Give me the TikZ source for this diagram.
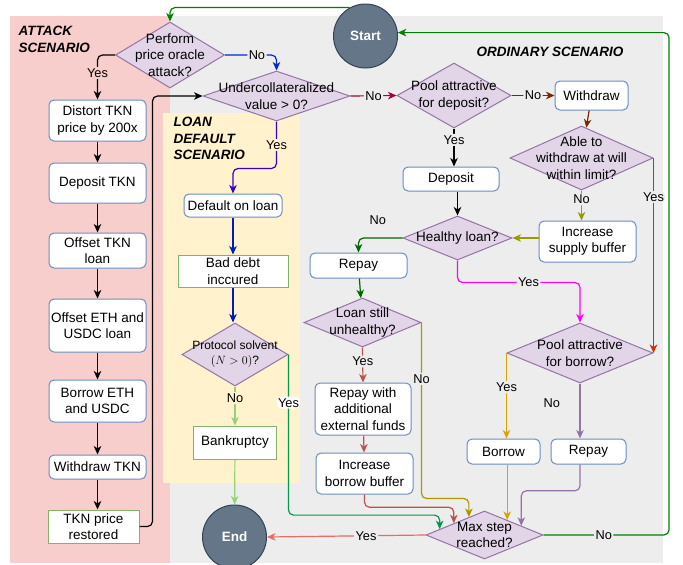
\documentclass[tikz,border=0pt]{standalone}
\usepackage{fontspec}
\setmainfont{Liberation Sans}
\usetikzlibrary{shapes.geometric,arrows.meta,calc}
\definecolor{pinkbg}{HTML}{F8CECC}
\definecolor{graybg}{HTML}{EDEDED}
\definecolor{yellowbg}{HTML}{FFF2CC}
\definecolor{diafill}{HTML}{E1D5E7}
\definecolor{diaborder}{HTML}{9673A6}
\definecolor{boxblue}{HTML}{6C8EBF}
\definecolor{boxgreen}{HTML}{82B366}
\definecolor{termfill}{HTML}{647687}
\definecolor{termborder}{HTML}{314354}
\definecolor{cStart}{HTML}{007F00}
\definecolor{cBlueA}{HTML}{0029CC}
\definecolor{cPurpleBlue}{HTML}{3700CC}
\definecolor{cBlueB}{HTML}{001DBC}
\definecolor{cLgreen}{HTML}{97D077}
\definecolor{cGreenB}{HTML}{00994D}
\definecolor{cCrimson}{HTML}{A50040}
\definecolor{cBrown}{HTML}{7A2800}
\definecolor{cOlive}{HTML}{999900}
\definecolor{cOrRed}{HTML}{CC3300}
\definecolor{cDGreen}{HTML}{006600}
\definecolor{cMagenta}{HTML}{FF00FF}
\definecolor{cRed}{HTML}{B85450}
\definecolor{cGold}{HTML}{B09500}
\definecolor{cOrange}{HTML}{D9A300}
\definecolor{cPurple}{HTML}{9673A6}
\definecolor{cSalmon}{HTML}{EA6B66}
\begin{document}
\begin{tikzpicture}[x=1pt,y=-1pt,
  font=\fontsize{13.5}{16.5}\selectfont,
  box/.style={draw=boxblue, fill=white, rounded corners=5pt, line width=1pt, inner sep=0pt, align=center},
  gbox/.style={draw=boxgreen, fill=white, line width=1pt, inner sep=0pt, align=center},
  dia/.style={diamond, draw=diaborder, fill=diafill, line width=1pt, inner sep=0pt},
  term/.style={circle, draw=termborder, fill=termfill, line width=1pt, minimum size=64pt, inner sep=0pt, text=white, font=\fontsize{13.5}{16}\selectfont\bfseries},
  arr/.style={line width=1.2pt, -{Stealth[length=8.5pt,width=7.5pt,inset=2.5pt]}, rounded corners=5pt},
  lbl/.style={font=\fontsize{12.8}{15}\selectfont, text=black, fill=graybg, inner sep=1.5pt},
  nlbl/.style={font=\fontsize{12.8}{15}\selectfont, text=black},
  scen/.style={font=\fontsize{13.5}{16.5}\selectfont\bfseries\itshape, align=left}
]
\useasboundingbox (0,0) rectangle (683,565);
% backgrounds
\fill[pinkbg] (10,16) rectangle (170,563);
\fill[graybg] (170,16) rectangle (663,563);
\fill[yellowbg] (163,113) rectangle (300,483);
\node[scen, anchor=west] (tAttack) at (15,39.5) {ATTACK\\SCENARIO};
\node[scen, anchor=west] (tLoan) at (170,138.5) {LOAN\\DEFAULT\\SCENARIO};
\node[scen] (tOrd) at (550,52) {ORDINARY SCENARIO};

% attack column
\node[dia, minimum width=109pt, minimum height=66pt, label={[align=center]center:Perform\\price oracle\\attack?}] (attack) at (170,55) {};
\node[box, minimum width=97pt, minimum height=41pt] (distort) at (97.5,120.5) {Distort TKN\\price by 200x};
\node[box, minimum width=97pt, minimum height=40pt] (deptkn) at (97.5,183) {Deposit TKN};
\node[box, minimum width=97pt, minimum height=35pt] (offtkn) at (97.5,250.5) {Offset TKN\\loan};
\node[box, minimum width=97pt, minimum height=53pt] (offeth) at (97.5,325.5) {Offset ETH and\\USDC loan};
\node[box, minimum width=97pt, minimum height=42pt] (borrowe) at (97.5,401) {Borrow ETH\\and USDC};
\node[box, minimum width=97pt, minimum height=24pt] (wtkn) at (97.5,467) {Withdraw TKN};
\node[gbox, minimum width=91pt, minimum height=33pt] (restored) at (93.5,526.5) {TKN price\\restored};

% loan default column
\node[dia, minimum width=147pt, minimum height=50pt, label={[align=center]center:Undercollateralized\\value > 0?}] (undercol) at (276.5,96) {};
\node[box, minimum width=98pt, minimum height=23pt] (default) at (233,205.5) {Default on loan};
\node[gbox, minimum width=110pt, minimum height=32pt] (baddebt) at (233,271) {Bad debt\\inccured};
\node[dia, minimum width=106pt, minimum height=63pt, label={[align=center, font=\fontsize{12}{15}\selectfont]center:Protocol solvent\\$(N>0)$?}] (protocol) at (235,354.5) {};
\node[gbox, minimum width=83pt, minimum height=33pt] (bankrupt) at (235,442.5) {Bankruptcy};
\node[term] (end) at (234.5,537) {End};

% ordinary
\node[term] (start) at (365.5,36) {Start};
\node[dia, minimum width=114pt, minimum height=65pt, label={[align=center]center:Pool attractive\\for deposit?}] (pooldep) at (454,95.5) {};
\node[box, minimum width=73pt, minimum height=29pt] (withdraw) at (591.5,95.5) {Withdraw};
\node[dia, minimum width=143pt, minimum height=64pt, label={[align=center]center:Able to\\withdraw at will\\within limit?}] (able) at (581.5,158) {};
\node[box, minimum width=97pt, minimum height=41pt] (incsupply) at (587.5,241.5) {Increase\\supply buffer};
\node[box, minimum width=96pt, minimum height=24pt] (deposit) at (451,179) {Deposit};
\node[dia, minimum width=109pt, minimum height=44pt, label={[align=center]center:Healthy loan?}] (healthy) at (457.5,238) {};
\node[box, minimum width=97pt, minimum height=25pt] (repay1) at (358.5,265.5) {Repay};
\node[dia, minimum width=117pt, minimum height=49pt, label={[align=center]center:Loan still\\unhealthy?}] (loanstill) at (362.5,322.5) {};
\node[box, minimum width=96pt, minimum height=52pt] (repayext) at (363,409) {Repay with\\additional\\external funds};
\node[box, minimum width=97pt, minimum height=41pt] (incborrow) at (364.5,473.5) {Increase\\borrow buffer};
\node[dia, minimum width=146pt, minimum height=60pt, label={[align=center]center:Pool attractive\\for borrow?}] (poolbor) at (580,353) {};
\node[box, minimum width=73pt, minimum height=25pt] (borrow) at (503.5,451.5) {Borrow};
\node[box, minimum width=75pt, minimum height=25pt] (repay2) at (588.5,451.5) {Repay};
\node[dia, minimum width=117pt, minimum height=48pt, label={[align=center]center:Max step\\reached?}] (maxstep) at (484.5,535) {};

\coordinate (mA) at ($(maxstep.west)!0.24!(maxstep.north)$);
\coordinate (mB) at ($(maxstep.west)!0.48!(maxstep.north)$);
\coordinate (mC) at ($(maxstep.west)!0.735!(maxstep.north)$);
\coordinate (mD) at ($(maxstep.north)!0.385!(maxstep.east)$);
\coordinate (mE) at ($(maxstep.north)!0.624!(maxstep.east)$);

% connectors: attack
\draw[arr, cStart] (start.119) -| (attack.north);
\draw[arr, black] (attack.west) -| node[lbl, fill=pinkbg, pos=0.7]{Yes} (distort.north);
\draw[arr, black] (distort) -- (deptkn);
\draw[arr, black] (deptkn) -- (offtkn);
\draw[arr, black] (offtkn) -- (offeth);
\draw[arr, black] (offeth) -- (borrowe);
\draw[arr, black] (borrowe) -- (wtkn);
\draw[arr, black] (wtkn.south) -- (wtkn.south |- restored.north);
\draw[arr, black] (restored.east) -- ++(13,0) |- (undercol.west);
\draw[arr, cBlueA] (attack.east) -| node[lbl, pos=0.31]{No} (undercol.north);

% loan default
\draw[arr, cPurpleBlue] (undercol.south) -- node[lbl, fill=yellowbg]{Yes} ++(0,47) -| (default.north);
\draw[arr, cBlueB] (default) -- (baddebt);
\draw[arr, cBlueB] (baddebt.south) -- (baddebt.south |- protocol.north);
\draw[arr, cLgreen] (protocol.south) -- node[lbl, fill=yellowbg, pos=0.3]{No} (bankrupt.north);
\draw[arr, cLgreen] (bankrupt) -- (end);
\draw[arr, cGreenB] (protocol.east) |- node[lbl, fill=white, pos=0.15]{Yes} ($(mA)+(0,-14)$) -- (mA);

% ordinary
\draw[arr, cCrimson] (undercol.east) -- node[lbl]{No} (pooldep.west);
\draw[arr, cBrown] (pooldep.east) -- node[lbl]{No} (withdraw.west);
\draw[arr, cBrown] (withdraw) -- (able);
\draw[arr, cOlive] (able.south) -- node[lbl, pos=0.3]{No} (incsupply.north -| able.south);
\draw[arr, cOrRed] (able.east) -- node[lbl, pos=0.2]{Yes} (poolbor.east);
\draw[arr, cOlive] (incsupply.west |- healthy.east) -- (healthy.east);
\draw[arr, black] (pooldep.south) -- node[lbl, pos=0.3]{Yes} (pooldep.south |- deposit.north);
\draw[arr, black] (deposit.south -| healthy.north) -- (healthy.north);
\draw[arr, cDGreen] (healthy.west) -| node[nlbl, pos=0.28, above=9pt]{No} (repay1.north);
\draw[arr, cDGreen] (repay1) -- (loanstill);
\draw[arr, cRed] (loanstill.south) -- node[lbl, pos=0.4]{Yes} (repayext.north);
\draw[arr, cRed] (repayext) -- (incborrow);
\draw[arr, cRed] (incborrow.south) |- ($(mB)+(0,-16)$) -- (mB);
\draw[arr, cGold] (loanstill.east) |- node[lbl, pos=0.16]{No} ($(mC)+(0,-18.5)$) -- (mC);
\draw[arr, cMagenta] (healthy.south) -- ++(0,22) -| node[lbl, pos=0.29]{Yes} (poolbor.north);
\draw[arr, cOrange] (poolbor.west) -- node[lbl, pos=0.4]{Yes} (poolbor.west |- borrow.north);
\draw[arr, cPurple] (poolbor.south) -- node[nlbl, pos=0.36, left=16pt]{No} (poolbor.south |- repay2.north);
\draw[arr, cOrange] (mD |- borrow.south) -- (mD);
\draw[arr, cPurple] (poolbor.south |- repay2.south) |- ($(mE)+(0,-35)$) -- (mE);
\draw[arr, cSalmon] (maxstep.west) -- node[lbl, pos=0.375]{Yes} (end.east);
\draw[arr, cStart] (maxstep.east) -- node[lbl, pos=0.48]{No} ++(125.5,0) |- (start.6);
\end{tikzpicture}
\end{document}
